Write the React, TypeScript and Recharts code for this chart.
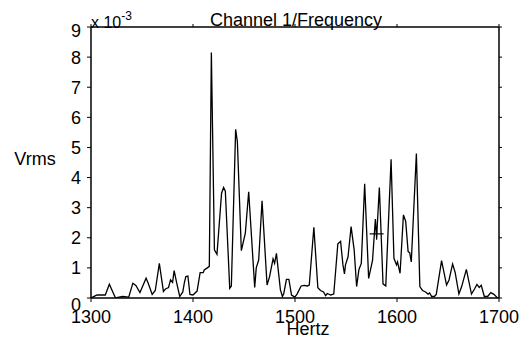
import React from 'react';
import { LineChart, Line, XAxis, YAxis, Scatter, Label } from 'recharts';

const hertz = [
  1300, 1304, 1306, 1314, 1318, 1324, 1331, 1337, 1341, 1344, 1348, 1354, 1356, 1360, 1363, 1367,
  1371, 1373, 1376, 1378, 1380, 1381.5, 1384, 1387, 1390, 1391.5, 1393, 1395, 1397, 1400, 1404, 1407,
  1410, 1411, 1414, 1416, 1418, 1421, 1423.5, 1428, 1430, 1431.7, 1436, 1437.6, 1441.8, 1443.5,
  1447.4, 1451.3, 1454.6, 1460.5, 1462, 1464.4, 1467.7, 1472.6, 1475, 1478.5, 1480, 1481.8, 1483.5,
  1485.7, 1487.7, 1489, 1491.6, 1494, 1496.6, 1499.8, 1502, 1506, 1509, 1512, 1514, 1518.5, 1522.4,
  1525, 1528, 1530, 1531.7, 1535, 1538, 1542, 1544.7, 1547, 1548.5, 1549.5, 1552, 1555, 1558, 1560.4,
  1562.7, 1565, 1568.3, 1572.2, 1576, 1578.8, 1580, 1582.7, 1586.3, 1589, 1594.2, 1597, 1599.5,
  1600.5, 1603, 1606.3, 1608.5, 1610.9, 1612.5, 1614, 1619, 1622.4, 1625, 1628, 1630.5, 1632, 1634,
  1636.6, 1638.5, 1643.7, 1648.6, 1651, 1654.5, 1657, 1660.7, 1663.4, 1668, 1673, 1676, 1678.4,
  1680.6, 1682.6, 1685.6, 1688.8, 1692, 1695, 1698.6,
];

const vrms = [
  0.0, 0.07, 0.1, 0.1, 0.46, 0.0, 0.05, 0.03, 0.49, 0.42, 0.18, 0.66, 0.5, 0.12, 0.25, 1.15,
  0.22, 0.3, 0.35, 0.6, 0.52, 0.91, 0.5, 0.05, 0.2, 0.5, 0.71, 0.73, 0.12, 0.1, 0.23, 0.84,
  0.84, 0.93, 1.0, 1.05, 8.15, 1.6, 1.45, 3.48, 3.67, 3.55, 0.32, 0.4, 5.6, 5.19,
  1.57, 2.15, 3.53, 0.35, 1.0, 1.26, 3.23, 0.43, 0.7, 1.3, 1.15, 1.48, 0.95,
  0.27, 0.05, 0.15, 0.62, 0.62, 0.1, 0.03, 0.13, 0.4, 0.42, 0.4, 0.43, 2.35, 0.34,
  0.25, 0.2, 0.08, 0.15, 0.1, 0.13, 1.8, 1.88, 1.1, 0.8, 1.1, 1.37, 2.37, 1.6, 0.38,
  0.95, 1.15, 3.79, 0.65, 1.25, 2.62, 2.0, 3.67, 0.47, 0.4, 4.61, 1.32, 1.1,
  1.2, 0.82, 2.76, 2.55, 1.54, 1.5, 1.2, 4.8, 0.38, 0.25, 0.2, 0.13, 0.17, 0.05,
  0.05, 0.12, 1.24, 0.43, 0.6, 1.13, 0.85, 0.13, 0.38, 0.95, 0.13, 0.3, 0.45,
  0.35, 0.42, 0.05, 0.05, 0.18, 0.12, 0.0,
];

const xTicks = [1300, 1400, 1500, 1600, 1700];
const yTicks = [0, 1, 2, 3, 4, 5, 6, 7, 8, 9];
const cursorHz = [1580];
const cursorVrms = [2.13];

const data = hertz.map((h, i) => ({ hz: h, v: vrms[i] }));
const cursorData = cursorHz.map((h, i) => ({ hz: h, v: cursorVrms[i] }));

const FONT = '"Liberation Sans", Arial, Helvetica, sans-serif';

const YTick = (p: any) => {
  const val = p.payload.value;
  const shift = val === 0 ? 7 : val === 9 ? 4 : 0;
  return (
    <text x={p.x} y={p.y + shift} dy="0.355em" textAnchor="end" fill="#000" fontSize={18} fontFamily={FONT}>
      {val}
    </text>
  );
};

const Cross = (p: any) => {
  const { cx, cy } = p;
  return (
    <g>
      <line x1={cx - 7} x2={cx + 7} y1={cy} y2={cy} stroke="#000" strokeWidth={1.2} />
      <line x1={cx} x2={cx} y1={cy - 6} y2={cy + 6} stroke="#000" strokeWidth={1.2} />
    </g>
  );
};

export default function App() {
  return (
    <div style={{ position: 'absolute', left: 0, top: 0, background: '#fff' }}>
      <LineChart width={523} height={337} data={data} margin={{ top: 17, right: 14, bottom: 9, left: 51 }}>
        <XAxis
          xAxisId="b"
          type="number"
          dataKey="hz"
          domain={[1300, 1700]}
          ticks={xTicks}
          orientation="bottom"
          height={30}
          tickSize={4}
          tickMargin={8}
          stroke="#000"
          axisLine={{ stroke: '#000', strokeWidth: 1.5 }}
          tickLine={{ stroke: '#000' }}
          tick={{ fill: '#000', fontSize: 18, fontFamily: FONT }}
          allowDataOverflow
        >
          <Label
            content={() => (
              <text x={308} y={335} textAnchor="middle" fill="#000" fontSize={18} fontFamily={FONT}>
                Hertz
              </text>
            )}
          />
        </XAxis>
        <XAxis
          xAxisId="t"
          type="number"
          dataKey="hz"
          domain={[1300, 1700]}
          ticks={xTicks}
          orientation="top"
          height={10}
          tickSize={3}
          stroke="#000"
          axisLine={{ stroke: '#000', strokeWidth: 1.5 }}
          tickLine={{ stroke: '#000' }}
          tickFormatter={() => ''}
          allowDataOverflow
        >
          <Label
            content={() => (
              <text x={296} y={26} textAnchor="middle" fill="#000" fontSize={18} fontFamily={FONT}>
                Channel 1/Frequency
              </text>
            )}
          />
        </XAxis>
        <YAxis
          yAxisId="l"
          type="number"
          dataKey="v"
          domain={[0, 9]}
          ticks={yTicks}
          orientation="left"
          width={40}
          tickSize={4}
          tickMargin={6}
          stroke="#000"
          axisLine={{ stroke: '#000', strokeWidth: 1.5 }}
          tickLine={{ stroke: '#000' }}
          tick={YTick}
          allowDataOverflow
        >
          <Label
            content={() => (
              <g>
                <text x={35} y={165} textAnchor="middle" fill="#000" fontSize={18} fontFamily={FONT}>
                  Vrms
                </text>
                <text x={91} y={28} textAnchor="start" fill="#000" fontSize={16} fontFamily={FONT}>
                  x 10
                  <tspan dy={-8} fontSize={12}>-3</tspan>
                </text>
              </g>
            )}
          />
        </YAxis>
        <YAxis
          yAxisId="r"
          type="number"
          dataKey="v"
          domain={[0, 9]}
          ticks={yTicks}
          orientation="right"
          width={10}
          tickSize={3}
          stroke="#000"
          axisLine={{ stroke: '#000', strokeWidth: 1.5 }}
          tickLine={{ stroke: '#000' }}
          tickFormatter={() => ''}
          allowDataOverflow
        />
        <Line
          xAxisId="b"
          yAxisId="l"
          type="linear"
          dataKey="v"
          stroke="#000"
          strokeWidth={1.3}
          dot={false}
          activeDot={false}
          isAnimationActive={false}
        />
        <Scatter
          xAxisId="b"
          yAxisId="l"
          data={cursorData}
          dataKey="v"
          shape={Cross}
          isAnimationActive={false}
        />
      </LineChart>
    </div>
  );
}
